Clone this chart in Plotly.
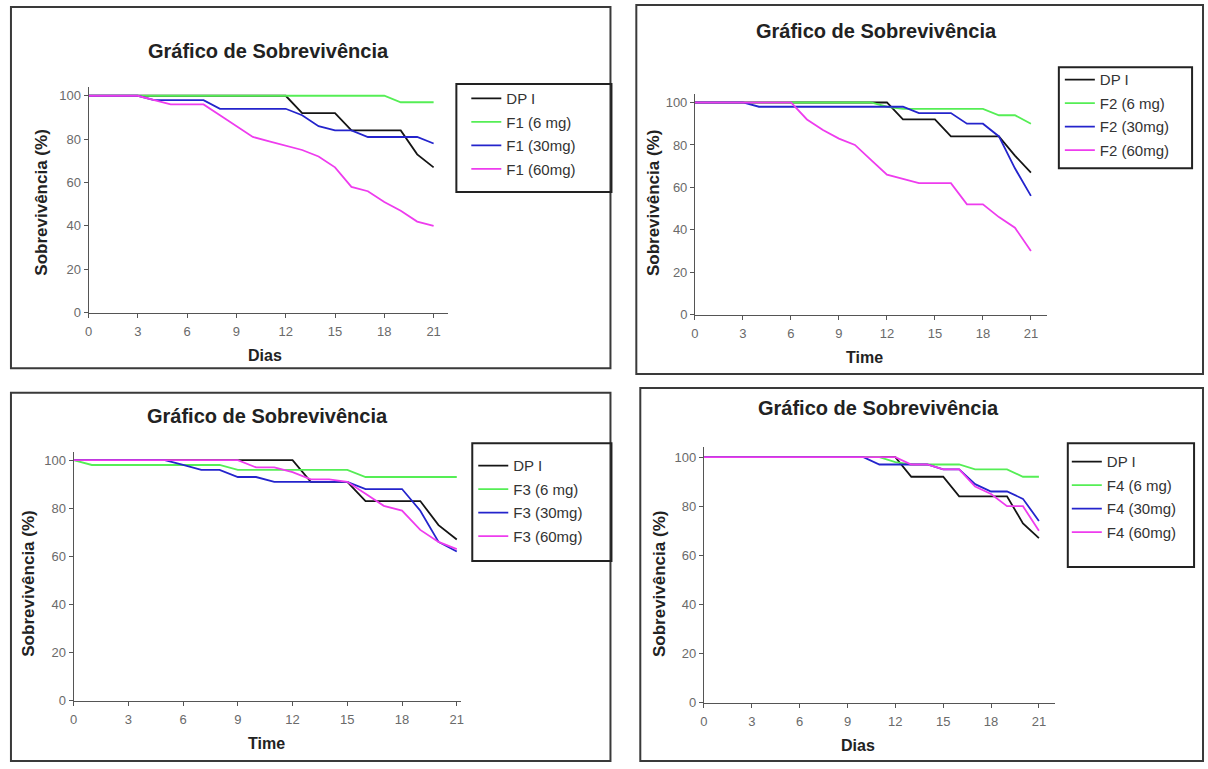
import plotly.graph_objects as go

W, H = 1208, 769
days = list(range(22))

# Panel 1 (F1)
p1_dp = [100]*13 + [92, 92, 92, 84, 84, 84, 84, 73, 67]
p1_f6 = [100]*19 + [97, 97, 97]
p1_f30 = [100, 100, 100, 100, 98, 98, 98, 98, 94, 94, 94, 94, 94, 91, 86, 84, 84, 81, 81, 81, 81, 78]
p1_f60 = [100, 100, 100, 100, 98, 96, 96, 96, 91, 86, 81, 79, 77, 75, 72, 67, 58, 56, 51, 47, 42, 40]

# Panel 2 (F2)
p2_dp = [100]*13 + [92, 92, 92, 84, 84, 84, 84, 75, 67]
p2_f6 = [100]*12 + [98, 97, 97, 97, 97, 97, 97, 94, 94, 90]
p2_f30 = [100, 100, 100, 100, 98, 98, 98, 98, 98, 98, 98, 98, 98, 98, 95, 95, 95, 90, 90, 84, 69, 56]
p2_f60 = [100, 100, 100, 100, 100, 100, 100, 92, 87, 83, 80, 73, 66, 64, 62, 62, 62, 52, 52, 46, 41, 30]

# Panel 3 (F3)
p3_dp = [100]*13 + [91, 91, 91, 83, 83, 83, 83, 73, 67]
p3_f6 = [100, 98, 98, 98, 98, 98, 98, 98, 98, 96, 96, 96, 96, 96, 96, 96, 93, 93, 93, 93, 93, 93]
p3_f30 = [100, 100, 100, 100, 100, 100, 98, 96, 96, 93, 93, 91, 91, 91, 91, 91, 88, 88, 88, 79, 66, 62]
p3_f60 = [100, 100, 100, 100, 100, 100, 100, 100, 100, 100, 97, 97, 95, 92, 92, 91, 86, 81, 79, 71, 66, 63]

# Panel 4 (F4)
p4_dp = [100]*13 + [92, 92, 92, 84, 84, 84, 84, 73, 67]
p4_f6 = [100]*12 + [98, 97, 97, 97, 97, 95, 95, 95, 92, 92]
p4_f30 = [100]*11 + [97, 97, 97, 97, 95, 95, 89, 86, 86, 83, 74]
p4_f60 = [100]*13 + [97, 97, 95, 95, 88, 85, 80, 80, 70]

x_ticks = [0, 3, 6, 9, 12, 15, 18, 21]
y_ticks = [0, 20, 40, 60, 80, 100]
title_text = "Gráfico de Sobrevivência"
y_title = "Sobrevivência (%)"

colors = ["#151515", "#55ee55", "#2424cc", "#ee3cee"]

panels = [
    dict(series=[p1_dp, p1_f6, p1_f30, p1_f60],
         names=["DP I", "F1 (6 mg)", "F1 (30mg)", "F1 (60mg)"],
         xtitle="Dias", box=(7, 7, 610, 372),
         px=(85, 447), py=(88, 316), xr=21.9, yr=104,
         title=(266, 52), xt=(263, 359), yt=(38, 205),
         leg=(455, 85, 611, 194), first=98, linex=472),
    dict(series=[p2_dp, p2_f6, p2_f30, p2_f60],
         names=["DP I", "F2 (6 mg)", "F2 (30mg)", "F2 (60mg)"],
         xtitle="Time", box=(636, 5, 1206, 378),
         px=(695, 1049), py=(95, 318), xr=22.0, yr=104,
         title=(878, 31), xt=(866, 361), yt=(654, 205),
         leg=(1061, 68, 1195, 170), first=79, linex=1069),
    dict(series=[p3_dp, p3_f6, p3_f30, p3_f60],
         names=["DP I", "F3 (6 mg)", "F3 (30mg)", "F3 (60mg)"],
         xtitle="Time", box=(7, 397, 610, 769),
         px=(70, 460), py=(457, 708), xr=21.25, yr=103.3,
         title=(265, 420), xt=(264, 751), yt=(25, 590),
         leg=(471, 448, 611, 567), first=469, linex=479),
    dict(series=[p4_dp, p4_f6, p4_f30, p4_f60],
         names=["DP I", "F4 (6 mg)", "F4 (30mg)", "F4 (60mg)"],
         xtitle="Dias", box=(640, 392, 1206, 769),
         px=(704, 1057), py=(452, 710), xr=22.0, yr=104,
         title=(880, 412), xt=(859, 753), yt=(660, 590),
         leg=(1070, 448, 1197, 573), first=465, linex=1076),
]

fig = go.Figure()
shapes = []
annotations = []
layout = dict(width=W, height=H, autosize=False,
              margin=dict(l=0, r=0, t=0, b=0),
              paper_bgcolor="white", plot_bgcolor="white",
              showlegend=True)

FONT = "Liberation Sans, Arial, sans-serif"
TICKFONT = dict(family=FONT, size=13, color="#6a6a6a")

for i, p in enumerate(panels):
    n = i + 1
    sfx = "" if n == 1 else str(n)
    xa = "x" + sfx
    ya = "y" + sfx
    leg = "legend" + sfx
    for s, nm, c in zip(p["series"], p["names"], colors):
        fig.add_trace(go.Scatter(x=days, y=s, mode="lines", name=nm,
                                 line=dict(color=c, width=1.8),
                                 xaxis=xa, yaxis=ya, legend=leg,
                                 legendgroup=f"{n}-{nm}"))
    x0, x1 = p["px"]
    y0, y1 = p["py"]
    layout["xaxis" + sfx] = dict(domain=[x0 / W, x1 / W], range=[0, p["xr"]],
                                 anchor=ya, tickvals=x_ticks, ticks="outside",
                                 ticklen=4, tickcolor="#555", showline=True,
                                 linecolor="#555", linewidth=1, showgrid=False,
                                 zeroline=False, fixedrange=True,
                                 ticklabelstandoff=3,
                                 tickfont=TICKFONT)
    layout["yaxis" + sfx] = dict(domain=[1 - y1 / H, 1 - y0 / H], range=[0, p["yr"]],
                                 anchor=xa, tickvals=y_ticks, ticks="outside",
                                 ticklen=4, tickcolor="#555", showline=True,
                                 linecolor="#555", linewidth=1, showgrid=False,
                                 zeroline=False, fixedrange=True,
                                 tickfont=TICKFONT)
    bx0, by0, bx1, by1 = p["box"]
    shapes.append(dict(type="rect", xref="paper", yref="paper",
                       x0=bx0 / W, x1=bx1 / W, y0=1 - by1 / H, y1=1 - by0 / H,
                       line=dict(color="#3a3a3a", width=2)))
    lx0, ly0, lx1, ly1 = p["leg"]
    shapes.append(dict(type="rect", xref="paper", yref="paper",
                       x0=lx0 / W, x1=lx1 / W, y0=1 - ly1 / H, y1=1 - ly0 / H,
                       line=dict(color="#222", width=2)))
    layout[leg] = dict(x=(p["linex"] - 7) / W, y=1 - (p["first"] - 15) / H,
                       xanchor="left", yanchor="top",
                       bgcolor="rgba(0,0,0,0)", borderwidth=0,
                       font=dict(family=FONT, size=15, color="#333"),
                       tracegroupgap=1, itemclick=False, itemdoubleclick=False)
    tx, ty = p["title"]
    annotations.append(dict(text=title_text, x=tx / W, y=1 - ty / H, xref="paper",
                            yref="paper", showarrow=False, xanchor="center",
                            yanchor="middle",
                            font=dict(family=FONT, size=20, color="#222", weight="bold")))
    ax, ay = p["xt"]
    annotations.append(dict(text=p["xtitle"], x=ax / W, y=1 - ay / H, xref="paper",
                            yref="paper", showarrow=False, xanchor="center",
                            yanchor="middle",
                            font=dict(family=FONT, size=16, color="#222", weight="bold")))
    yx, yy = p["yt"]
    annotations.append(dict(text=y_title, x=yx / W, y=1 - yy / H, xref="paper",
                            yref="paper", showarrow=False, xanchor="center",
                            yanchor="middle", textangle=-90,
                            font=dict(family=FONT, size=17, color="#222", weight="bold")))

layout["shapes"] = shapes
layout["annotations"] = annotations
fig.update_layout(**layout)
fig.write_html("out.html")
